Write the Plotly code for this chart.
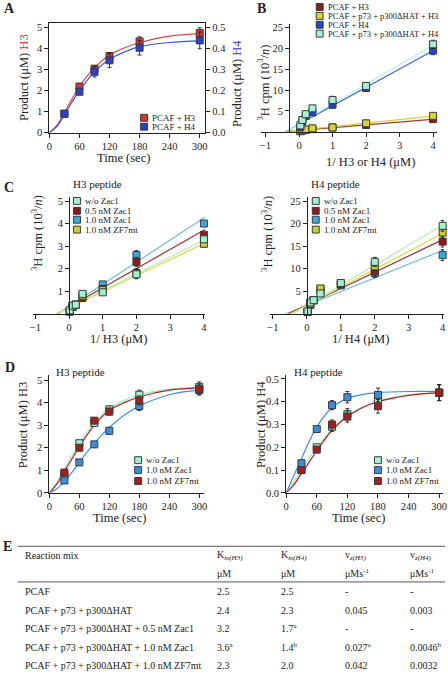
import plotly.graph_objects as go

W, H = 448, 677
FONT = "Liberation Serif"

# ---------------- DATA ----------------
# Panel A
A_time = [30, 60, 90, 120, 180, 300]
A_h3 = [0.9, 2.2, 3.05, 3.65, 4.35, 4.75]
A_h3_err = [0.15, 0.12, 0.15, 0.15, 0.22, 0.25]
A_h4 = [0.09, 0.195, 0.29, 0.345, 0.405, 0.44]
A_h4_err = [0.012, 0.012, 0.025, 0.035, 0.035, 0.04]
fit_time = [0, 15, 30, 45, 60, 90, 120, 150, 180, 240, 300]
A_h3_fit = [0, 0.35, 0.95, 1.6, 2.2, 3.1, 3.7, 4.05, 4.3, 4.6, 4.72]
A_h4_fit = [0, 0.03, 0.085, 0.145, 0.2, 0.29, 0.35, 0.385, 0.41, 0.43, 0.438]

# Panel B (Lineweaver-Burk)
B_x = [0.04, 0.1, 0.2, 0.4, 1, 2, 4]
B_h3_pcaf = [0.2, 0.3, 0.4, 0.6, 1.0, 1.6, 3.0]
B_h3_p73 = [0.1, 0.3, 0.5, 0.8, 1.0, 2.0, 3.8]
B_h4_pcaf = [1.1, 2.4, 3.8, 4.6, 6.5, 10.5, 19.5]
B_h4_p73 = [1.5, 2.8, 4.2, 5.6, 7.6, 11.0, 21.0]
B_h3_err = [0.2, 0.2, 0.2, 0.3, 0.3, 0.4, 0.5]
B_h4_err = [0.3, 0.3, 0.4, 0.5, 0.9, 0.8, 1.0]
B_fit_x = [-0.41, 4.05]
B_fit_h3_pcaf = [0, 3.0]
B_fit_h3_p73 = [0, 3.8]
B_fit_h4_pcaf = [0, 19.7]
B_fit_h4_p73 = [0, 21.1]
B_labels = ["PCAF + H3", "PCAF + p73 + p300\u0394HAT + H3",
            "PCAF + H4", "PCAF + p73 + p300\u0394HAT + H4"]

# Panel C
C_x = [0.02, 0.1, 0.2, 0.4, 1, 2, 4]
C_labels = ["w/o Zac1", "0.5 nM Zac1", "1.0 nM Zac1", "1.0 nM ZF7mt"]
C_h3 = {
    "w/o Zac1": [0.15, 0.35, 0.4, 0.88, 0.95, 1.75, 3.3],
    "0.5 nM Zac1": [0.1, 0.3, 0.4, 0.7, 1.1, 2.3, 3.5],
    "1.0 nM Zac1": [0.1, 0.3, 0.4, 0.8, 1.3, 2.6, 4.0],
    "1.0 nM ZF7mt": [0.1, 0.3, 0.4, 0.8, 1.05, 1.8, 3.1],
}
C_h3_err = [0.05, 0.05, 0.05, 0.08, 0.1, 0.2, 0.12]
C_h3_fit_x0 = {"w/o Zac1": -0.38, "0.5 nM Zac1": -0.35, "1.0 nM Zac1": -0.33, "1.0 nM ZF7mt": -0.38}
C_h3_fit_end = {"w/o Zac1": 3.3, "0.5 nM Zac1": 3.75, "1.0 nM Zac1": 4.3, "1.0 nM ZF7mt": 3.15}
C_h4 = {
    "w/o Zac1": [0.5, 2.5, 3.0, 4.5, 6.8, 11.5, 19.5],
    "0.5 nM Zac1": [0.4, 2.0, 3.0, 5.5, 6.5, 9.5, 16.0],
    "1.0 nM Zac1": [0.4, 2.0, 3.0, 5.0, 6.3, 9.0, 13.0],
    "1.0 nM ZF7mt": [0.4, 2.2, 3.0, 5.6, 6.8, 10.5, 18.0],
}
C_h4_err = [0.4, 0.4, 0.4, 0.6, 0.6, 1.0, 1.2]
C_h4_fit_x0 = {"w/o Zac1": -0.42, "0.5 nM Zac1": -0.55, "1.0 nM Zac1": -0.62, "1.0 nM ZF7mt": -0.48}
C_h4_fit_end = {"w/o Zac1": 19.9, "0.5 nM Zac1": 16.6, "1.0 nM Zac1": 14.2, "1.0 nM ZF7mt": 18.0}
C_fit_xend = 4.05

# Panel D
D_time = [30, 60, 90, 120, 180, 300]
D_labels = ["w/o Zac1", "1.0 nM Zac1", "1.0 nM ZF7mt"]
D_h3 = {
    "w/o Zac1": [0.8, 2.2, 3.1, 3.7, 4.35, 4.7],
    "1.0 nM Zac1": [0.55, 1.35, 2.15, 2.75, 3.85, 4.55],
    "1.0 nM ZF7mt": [0.9, 2.0, 3.2, 3.6, 4.1, 4.6],
}
D_h3_err = [0.12, 0.12, 0.12, 0.15, 0.2, 0.22]
D_h3_fit = {
    "w/o Zac1": [0, 0.45, 1.05, 1.65, 2.2, 3.1, 3.75, 4.1, 4.35, 4.6, 4.68],
    "1.0 nM Zac1": [0, 0.18, 0.5, 0.9, 1.35, 2.2, 2.9, 3.45, 3.85, 4.35, 4.55],
    "1.0 nM ZF7mt": [0, 0.4, 0.95, 1.5, 2.05, 3.0, 3.65, 4.0, 4.25, 4.55, 4.65],
}
D_h4 = {
    "w/o Zac1": [0.1, 0.2, 0.29, 0.345, 0.405, 0.44],
    "1.0 nM Zac1": [0.13, 0.28, 0.385, 0.42, 0.43, 0.44],
    "1.0 nM ZF7mt": [0.1, 0.19, 0.3, 0.335, 0.38, 0.44],
}
D_h4_err = [0.01, 0.012, 0.02, 0.025, 0.03, 0.035]
D_h4_fit = {
    "w/o Zac1": [0, 0.045, 0.1, 0.152, 0.2, 0.28, 0.34, 0.378, 0.405, 0.43, 0.44],
    "1.0 nM Zac1": [0, 0.075, 0.15, 0.225, 0.29, 0.375, 0.415, 0.432, 0.44, 0.445, 0.445],
    "1.0 nM ZF7mt": [0, 0.035, 0.085, 0.135, 0.185, 0.275, 0.335, 0.375, 0.4, 0.428, 0.44],
}

# Panel E table
E_header1 = ["Reaction mix", "K<sub><i>m(H3)</i></sub>", "K<sub><i>m(H4)</i></sub>",
             "v<sub><i>z(H3)</i></sub>", "v<sub><i>z(H4)</i></sub>"]
E_header2 = ["", "\u03bcM", "\u03bcM", "\u03bcMs<sup>-1</sup>", "\u03bcMs<sup>-1</sup>"]
E_mix = ["PCAF", "PCAF + p73 + p300\u0394HAT",
         "PCAF + p73 + p300\u0394HAT + 0.5 nM Zac1",
         "PCAF + p73 + p300\u0394HAT + 1.0 nM Zac1",
         "PCAF + p73 + p300\u0394HAT + 1.0 nM ZF7mt"]
E_km_h3 = ["2.5", "2.4", "3.2", "3.6<sup>a</sup>", "2.3"]
E_km_h4 = ["2.5", "2.3", "1.7<sup>a</sup>", "1.4<sup>b</sup>", "2.0"]
E_v_h3 = ["-", "0.045", "-", "0.027<sup>a</sup>", "0.042"]
E_v_h4 = ["-", "0.003", "-", "0.0046<sup>b</sup>", "0.0032"]

# ---------------- STYLES ----------------
A_COL = {"H3": ("#dd3232", "#e84646"), "H4": ("#2c3fd0", "#3a55dd")}
B_COL = ["#8a1e1e", "#d6d62e", "#2445d0", "#a3f2d6"]
B_LINE = ["#9a3a2a", "#d8cf40", "#3a66d8", "#b4f2e8"]
C_COL = {"w/o Zac1": "#9ef2cc", "0.5 nM Zac1": "#8b1c1c",
         "1.0 nM Zac1": "#3aa8e0", "1.0 nM ZF7mt": "#cdd02a"}
C_LINE = {"w/o Zac1": "#b2f0a8", "0.5 nM Zac1": "#a03030",
          "1.0 nM Zac1": "#6abbe8", "1.0 nM ZF7mt": "#d8d848"}
D_COL = {"w/o Zac1": "#9ef2cc", "1.0 nM Zac1": "#3a8ee0", "1.0 nM ZF7mt": "#a81c1c"}
D_LINE = {"w/o Zac1": "#98eec0", "1.0 nM Zac1": "#3a90e0", "1.0 nM ZF7mt": "#b02020"}


def px(x):
    return x / W


def py(y):
    return 1 - y / H


fig = go.Figure()


def points(x, y, err, color, xa, ya, size=7):
    fig.add_trace(go.Scatter(
        x=x, y=y, mode="markers", xaxis=xa, yaxis=ya, showlegend=False, cliponaxis=False,
        marker=dict(symbol="square", size=size, color=color, line=dict(color="#3a3a3a", width=1)),
        error_y=dict(type="data", array=err, color="#222222", thickness=0.9, width=2)))


def line(x, y, color, xa, ya, spline=False, width=1.2):
    fig.add_trace(go.Scatter(
        x=x, y=y, mode="lines", xaxis=xa, yaxis=ya, showlegend=False, hoverinfo="skip",
        line=dict(color=color, width=width, shape="spline" if spline else "linear", smoothing=1.0)))


# A
line(fit_time, A_h4_fit, A_COL["H4"][1], "x", "y2", spline=True)
line(fit_time, A_h3_fit, A_COL["H3"][1], "x", "y", spline=True)
points(A_time, A_h3, A_h3_err, A_COL["H3"][0], "x", "y")
points(A_time, A_h4, A_h4_err, A_COL["H4"][0], "x", "y2")

# B
B_series = [B_h3_pcaf, B_h3_p73, B_h4_pcaf, B_h4_p73]
B_fits = [B_fit_h3_pcaf, B_fit_h3_p73, B_fit_h4_pcaf, B_fit_h4_p73]
B_errs = [B_h3_err, B_h3_err, B_h4_err, B_h4_err]
for i in range(4):
    line(B_fit_x, B_fits[i], B_LINE[i], "x2", "y3")
for i in range(4):
    points(B_x, B_series[i], B_errs[i], B_COL[i], "x2", "y3")

# C
order = ["1.0 nM Zac1", "0.5 nM Zac1", "1.0 nM ZF7mt", "w/o Zac1"]
for k in order:
    line([C_h3_fit_x0[k], C_fit_xend], [0, C_h3_fit_end[k]], C_LINE[k], "x3", "y4")
    line([C_h4_fit_x0[k], C_fit_xend], [0, C_h4_fit_end[k]], C_LINE[k], "x4", "y5")
for k in order:
    points(C_x, C_h3[k], C_h3_err, C_COL[k], "x3", "y4")
    points(C_x, C_h4[k], C_h4_err, C_COL[k], "x4", "y5")

# D
for k in ["w/o Zac1", "1.0 nM ZF7mt", "1.0 nM Zac1"]:
    line(fit_time, D_h3_fit[k], D_LINE[k], "x5", "y6", spline=True)
    line(fit_time, D_h4_fit[k], D_LINE[k], "x6", "y7", spline=True)
for k in ["w/o Zac1", "1.0 nM Zac1", "1.0 nM ZF7mt"]:
    points(D_time, D_h3[k], D_h3_err, D_COL[k], "x5", "y6")
    points(D_time, D_h4[k], D_h4_err, D_COL[k], "x6", "y7")

# ---------------- AXES ----------------
tickfont = dict(family=FONT, size=10.5, color="#222222")
base = dict(showline=True, linecolor="#222222", linewidth=1, ticks="outside", ticklen=4,
            tickwidth=1, tickcolor="#222222", showgrid=False, zeroline=False, tickfont=tickfont,
            fixedrange=True)

time_ticks = [0, 60, 120, 180, 240, 300]
lb_ticks = [-1, 0, 1, 2, 3, 4]

fig.update_layout(
    xaxis=dict(base, domain=[px(47), px(205)], range=[0, 311], anchor="y", tickvals=time_ticks, mirror=True),
    yaxis=dict(base, domain=[py(133), py(22)], range=[0, 5.24], anchor="x", tickvals=[0, 1, 2, 3, 4, 5]),
    yaxis2=dict(base, overlaying="y", side="right", range=[0, 0.524], anchor="x",
                tickvals=[0, 0.1, 0.2, 0.3, 0.4, 0.5], ticktext=["0.0", "0.1", "0.2", "0.3", "0.4", "0.5"]),
    xaxis2=dict(base, domain=[px(262), px(440)], range=[-1.12, 4.12], anchor="y3", tickvals=lb_ticks),
    yaxis3=dict(base, domain=[py(132), py(23)], range=[0, 25.95], anchor="free", position=px(290),
                tickvals=[5, 10, 15, 20, 25]),
    xaxis3=dict(base, domain=[px(30), px(205)], range=[-1.08, 4.04], anchor="y4", tickvals=lb_ticks),
    yaxis4=dict(base, domain=[py(316), py(198)], range=[0, 5.18], anchor="free", position=px(67),
                tickvals=[1, 2, 3, 4, 5]),
    xaxis4=dict(base, domain=[px(271), px(447)], range=[-1.076, 4.04], anchor="y5", tickvals=lb_ticks),
    yaxis5=dict(base, domain=[py(316), py(198)], range=[0, 25.9], anchor="free", position=px(308),
                tickvals=[5, 10, 15, 20, 25]),
    xaxis5=dict(base, domain=[px(47), px(204)], range=[0, 310], anchor="y6", tickvals=time_ticks),
    yaxis6=dict(base, domain=[py(497), py(378)], range=[0, 5.22], anchor="x5", tickvals=[0, 1, 2, 3, 4, 5]),
    xaxis6=dict(base, domain=[px(287), px(446)], range=[0, 307.5], anchor="y7", tickvals=time_ticks),
    yaxis7=dict(base, domain=[py(497), py(378)], range=[0, 0.517], anchor="x6",
                tickvals=[0, 0.1, 0.2, 0.3, 0.4, 0.5], ticktext=["0.0", "0.1", "0.2", "0.3", "0.4", "0.5"]),
)

# ---------------- TEXT ----------------
annotations = []
shapes = []


def ann(text, x, y, size=12, xanchor="center", yanchor="middle", angle=0, color="#222222", bold=False):
    if bold:
        text = "<b>" + text + "</b>"
    annotations.append(dict(text=text, x=px(x), y=py(y), xref="paper", yref="paper",
                            xanchor=xanchor, yanchor=yanchor, textangle=angle, showarrow=False,
                            font=dict(family=FONT, size=size, color=color)))


def legend(items, x, ys, size=9):
    for (label, color), yy in zip(items, ys):
        shapes.append(dict(type="rect", xref="paper", yref="paper",
                           x0=px(x - 3.5), x1=px(x + 3.5), y0=py(yy + 3.5), y1=py(yy - 3.5),
                           fillcolor=color, line=dict(color="#3a3a3a", width=1)))
        ann(label, x + 6, yy, size=size, xanchor="left")


# Panel letters
for letter, lx, ly in [("A", 7, 8), ("B", 262, 8), ("C", 6, 188), ("D", 7, 370), ("E", 5, 551)]:
    ann(letter, lx, ly, size=14, bold=True)

# A
ann("Product (\u03bcM) <span style='color:#e02828'>H3</span>", 21, 77, size=12.5, angle=-90)
ann("Product (\u03bcM) <span style='color:#2a3ad0'>H4</span>", 237, 83, size=12.5, angle=-90)
ann("Time (sec)", 122, 159, size=12.5)
legend([("PCAF + H3", A_COL["H3"][0]), ("PCAF + H4", A_COL["H4"][0])], 143, [118, 127])

# B
ann("<sup>3</sup>H cpm (10<sup>3</sup>/<i>n</i>)", 264, 82, size=12.5, angle=-90)
ann("1/ H3 or H4 (\u03bcM)", 372, 163, size=12.5)
legend(list(zip(B_labels, B_COL)), 321, [6, 15, 24, 33], size=8.5)

# C
ann("H3 peptide", 96, 185, size=11)
ann("H4 peptide", 337, 185, size=11)
ann("<sup>3</sup>H cpm (10<sup>3</sup>/<i>n</i>)", 34, 235, size=12.5, angle=-90)
ann("<sup>3</sup>H cpm (10<sup>3</sup>/<i>n</i>)", 267, 235, size=12.5, angle=-90)
ann("1/ H3 (\u03bcM)", 117, 342, size=12.5)
ann("1/ H4 (\u03bcM)", 362, 342, size=12.5)
C_leg_y = [202, 212, 221, 231]
legend([(k, C_COL[k]) for k in C_labels], 75, C_leg_y, size=9)
legend([(k, C_COL[k]) for k in C_labels], 317, C_leg_y, size=9)

# D
ann("H3 peptide", 52, 375, size=11, xanchor="left")
ann("H4 peptide", 293, 375, size=11, xanchor="left")
ann("Product (\u03bcM) H3", 20, 428, size=12.5, angle=-90)
ann("Product (\u03bcM) H4", 261, 428, size=12.5, angle=-90)
ann("Time (sec)", 118, 522, size=12.5)
ann("Time (sec)", 360, 522, size=12.5)
D_leg_y = [464, 474, 485]
legend([(k, D_COL[k]) for k in D_labels], 137, D_leg_y, size=9)
legend([(k, D_COL[k]) for k in D_labels], 380, D_leg_y, size=9)

# E table
col_x = [20, 215, 280, 345, 410]
row_y = [597, 616, 634, 653, 671]
for line_y in [551, 587]:
    shapes.append(dict(type="line", xref="paper", yref="paper", x0=px(15), x1=px(448),
                       y0=py(line_y), y1=py(line_y), line=dict(color="#555555", width=1)))
for cx, h1, h2 in zip(col_x, E_header1, E_header2):
    ann(h1, cx, 560, size=10, xanchor="left")
    if h2:
        ann(h2, cx, 578, size=10, xanchor="left")
for r, yy in enumerate(row_y):
    for cx, col in zip(col_x, [E_mix, E_km_h3, E_km_h4, E_v_h3, E_v_h4]):
        ann(col[r], cx, yy, size=10, xanchor="left")

fig.update_layout(
    width=W, height=H, margin=dict(l=0, r=0, t=0, b=0),
    paper_bgcolor="white", plot_bgcolor="white",
    annotations=annotations, shapes=shapes, showlegend=False,
    font=dict(family=FONT, color="#222222"),
)

fig.write_html(
    "out.html",
    config={"displayModeBar": False, "staticPlot": True},
    post_script="document.body.style.margin='0';document.body.style.padding='0';"
                "document.documentElement.style.overflow='hidden';",
)
